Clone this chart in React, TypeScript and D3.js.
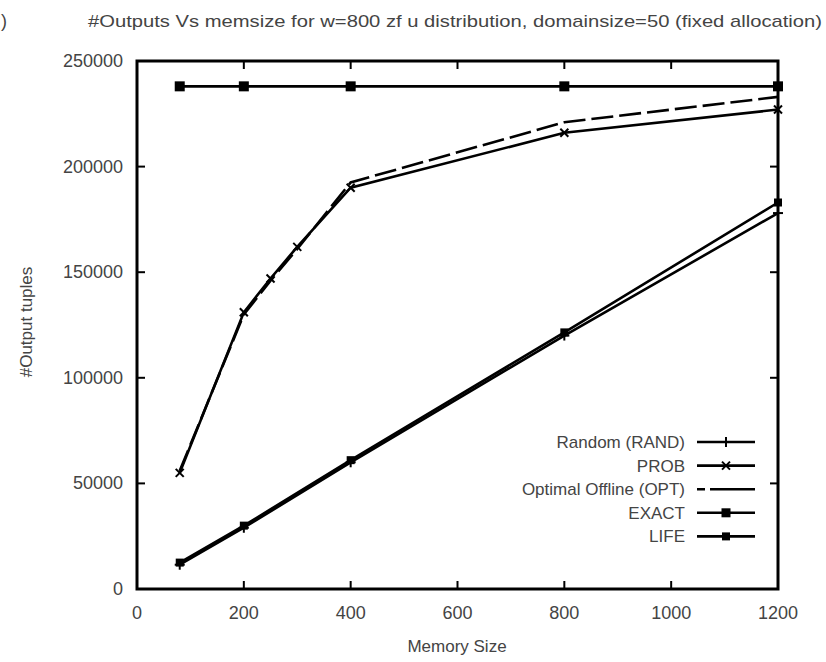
import React from 'react';
import * as d3 from 'd3';

const memTicks = [0, 200, 400, 600, 800, 1000, 1200];
const outTicks = [0, 50000, 100000, 150000, 200000, 250000];

const memCurve = [80, 200, 250, 300, 400, 800, 1200];
const memLinear = [80, 200, 400, 800, 1200];

const probValues = [55000, 131000, 147000, 162000, 190000, 216000, 227000];
const optValues = [56000, 130000, 146000, 161000, 192500, 221000, 233000];
const randValues = [11500, 29000, 60000, 120000, 178000];
const lifeValues = [12500, 30000, 61000, 121500, 183000];
const exactValues = [238000, 238000, 238000, 238000, 238000];

const legendNames = ['Random (RAND)', 'PROB', 'Optimal Offline (OPT)', 'EXACT', 'LIFE'];

const W = 826;
const H = 662;
const left = 137, right = 778, top = 61, bottom = 589;
const font = 'Liberation Sans, Arial, sans-serif';
const textCol = '#444';

function App() {
  const x = d3.scaleLinear().domain([0, 1200]).range([left, right]);
  const y = d3.scaleLinear().domain([0, 250000]).range([bottom, top]);

  const line = d3.line<[number, number]>().x(d => x(d[0])).y(d => y(d[1]));
  const zip = (xs: number[], ys: number[]) => xs.map((v, i) => [v, ys[i]] as [number, number]);

  const rand = zip(memLinear, randValues);
  const life = zip(memLinear, lifeValues);
  const exact = zip(memLinear, exactValues);
  const prob = zip(memCurve, probValues);
  const opt = zip(memCurve, optValues);

  const plus = (cx: number, cy: number, k: string) => (
    <g key={k} stroke="#000" strokeWidth={2}>
      <line x1={cx - 5} x2={cx + 5} y1={cy} y2={cy} />
      <line x1={cx} x2={cx} y1={cy - 5} y2={cy + 5} />
    </g>
  );
  const cross = (cx: number, cy: number, k: string) => (
    <g key={k} stroke="#000" strokeWidth={2}>
      <line x1={cx - 4} x2={cx + 4} y1={cy - 4} y2={cy + 4} />
      <line x1={cx - 4} x2={cx + 4} y1={cy + 4} y2={cy - 4} />
    </g>
  );
  const square = (cx: number, cy: number, s: number, k: string) => (
    <rect key={k} x={cx - s / 2} y={cy - s / 2} width={s} height={s} fill="#000" />
  );

  const legendY = (i: number) => 442 + i * 23.6;
  const lx0 = 697, lx1 = 755, lxm = 726;

  return (
    <svg width={W} height={H} style={{ position: 'absolute', left: 0, top: 0, background: '#fff' }}>
      <rect width={W} height={H} fill="#fff" />
      <text x={1} y={27} fontFamily={font} fontSize={18} fill={textCol}>)</text>
      <text x={88} y={27} fontFamily={font} fontSize={17} fill={textCol}
        textLength={734} lengthAdjust="spacingAndGlyphs">
        #Outputs Vs memsize for w=800 zf u distribution, domainsize=50 (fixed allocation)
      </text>

      {/* ticks */}
      <g stroke="#000" strokeWidth={2}>
        {memTicks.map(t => (
          <g key={'xt' + t}>
            <line x1={x(t)} x2={x(t)} y1={bottom} y2={bottom - 8} />
            <line x1={x(t)} x2={x(t)} y1={top} y2={top + 8} />
          </g>
        ))}
        {outTicks.map(t => (
          <g key={'yt' + t}>
            <line x1={left} x2={left + 8} y1={y(t)} y2={y(t)} />
            <line x1={right} x2={right - 8} y1={y(t)} y2={y(t)} />
          </g>
        ))}
      </g>
      <rect x={left} y={top} width={right - left} height={bottom - top} fill="none" stroke="#000" strokeWidth={3} />

      {memTicks.map(t => (
        <text key={'xl' + t} x={x(t)} y={619} textAnchor="middle" fontFamily={font} fontSize={18} fill={textCol}>{t}</text>
      ))}
      {outTicks.map(t => (
        <text key={'yl' + t} x={123} y={y(t) + 6} textAnchor="end" fontFamily={font} fontSize={18} fill={textCol}>{t}</text>
      ))}
      <text x={457} y={652} textAnchor="middle" fontFamily={font} fontSize={17} fill={textCol}>Memory Size</text>
      <text transform="translate(32,322) rotate(-90)" textAnchor="middle" fontFamily={font} fontSize={17} fill={textCol}>#Output tuples</text>

      {/* series */}
      <g fill="none" stroke="#000" strokeWidth={2.6}>
        <path d={line(exact) || ''} />
        <path d={line(prob) || ''} />
        <path d={line(opt) || ''} strokeDasharray="22,6" />
        <path d={line(rand) || ''} />
        <path d={line(life) || ''} />
      </g>
      {exact.map((d, i) => square(x(d[0]), y(d[1]), 10, 'e' + i))}
      {life.map((d, i) => square(x(d[0]), y(d[1]), 8, 'l' + i))}
      {rand.map((d, i) => plus(x(d[0]), y(d[1]), 'r' + i))}
      {prob.map((d, i) => cross(x(d[0]), y(d[1]), 'p' + i))}

      {/* legend */}
      {legendNames.map((n, i) => (
        <text key={n} x={685} y={legendY(i) + 6} textAnchor="end" fontFamily={font} fontSize={17} fill={textCol}>{n}</text>
      ))}
      <g stroke="#000" strokeWidth={2.6}>
        <line x1={lx0} x2={lx1} y1={legendY(0)} y2={legendY(0)} />
        <line x1={lx0} x2={lx1} y1={legendY(1)} y2={legendY(1)} />
        <line x1={lx0} x2={lx1} y1={legendY(2)} y2={legendY(2)} strokeDasharray="8,5,60" />
        <line x1={lx0} x2={lx1} y1={legendY(3)} y2={legendY(3)} />
        <line x1={lx0} x2={lx1} y1={legendY(4)} y2={legendY(4)} />
      </g>
      {plus(lxm, legendY(0), 'lg0')}
      {cross(lxm, legendY(1), 'lg1')}
      {square(lxm, legendY(3), 9, 'lg3')}
      {square(lxm, legendY(4), 8, 'lg4')}
    </svg>
  );
}

export default App;
